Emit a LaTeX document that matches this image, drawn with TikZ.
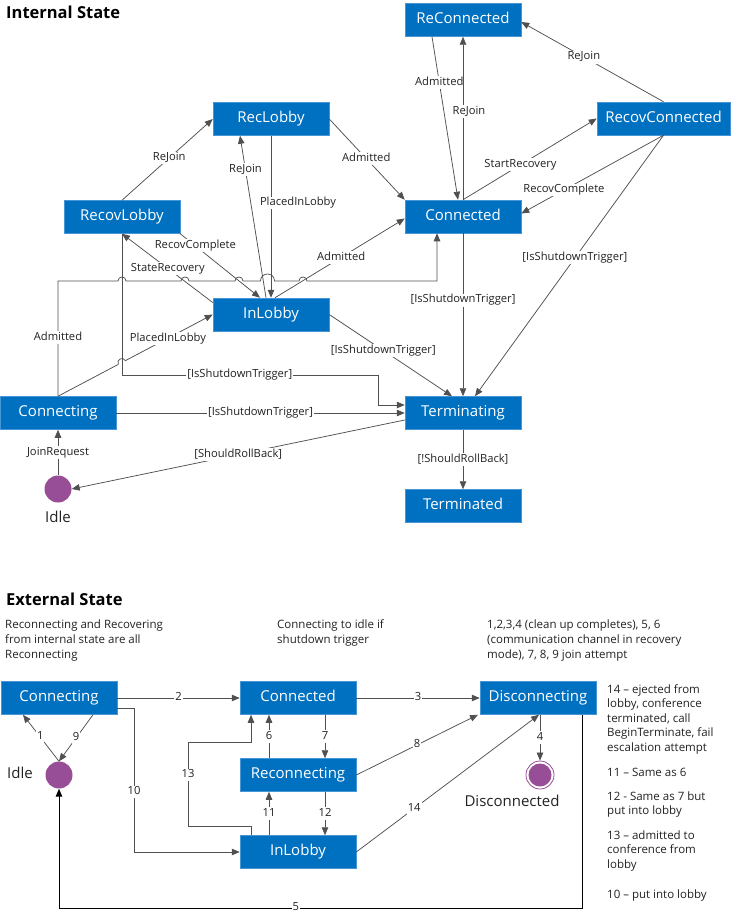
\documentclass[tikz,border=0pt]{standalone}
\usepackage{fontspec}
\setmainfont{Open Sans}
\usetikzlibrary{arrows.meta,calc}

\definecolor{boxblue}{RGB}{0,112,192}
\definecolor{boxedge}{RGB}{70,150,215}
\definecolor{wire}{RGB}{80,80,80}
\definecolor{dot}{RGB}{152,78,150}
\definecolor{ink}{RGB}{34,34,34}

\tikzset{
  state/.style={draw=boxedge, line width=0.5pt, fill=boxblue, text=white,
    minimum width=116pt, minimum height=33pt, inner sep=0pt,
    font=\fontsize{15}{18}\selectfont, text height=11pt, text depth=3.5pt},
  wide/.style={minimum width=133pt},
  tr/.style={draw=wire, line width=0.75pt, -{Triangle[length=8pt,width=6.5pt]}},
  blacktr/.style={draw=black, line width=1pt, -{Triangle[length=8pt,width=6.5pt]}},
  lbl/.style={fill=white, inner sep=1pt, text=ink,
    font=\fontsize{11.2}{13}\selectfont, text height=8.3pt, text depth=2.6pt},
  note/.style={anchor=west, inner sep=0pt, text=ink,
    font=\fontsize{11.5}{14}\selectfont, text height=8.5pt, text depth=2.5pt},
  heading/.style={anchor=west, inner sep=0pt, text=black,
    font=\fontsize{16.5}{19}\bfseries\selectfont, text height=12pt, text depth=3.5pt},
  pseudo/.style={circle, fill=dot, minimum size=27pt, inner sep=0pt},
  caption/.style={inner sep=0pt, text=ink, font=\fontsize{15}{18}\selectfont,
    text height=11pt, text depth=3.5pt},
}

\begin{document}
\begin{tikzpicture}[x=1pt,y=-1pt]
\useasboundingbox (0,0) rectangle (731,917);

% ---------------- internal state machine ----------------
\node[heading] (h1) at (6,14.75) {Internal State};

\node[state] (rc) at (463,20) {ReConnected};
\node[state,wide] (rx) at (663.5,118.5) {RecovConnected};
\node[state] (rb) at (271,119) {RecLobby};
\node[state] (rv) at (122,217) {RecovLobby};
\node[state] (cn) at (463,216.5) {Connected};
\node[state] (il) at (271,314.5) {InLobby};
\node[state] (ci) at (58,413) {Connecting};
\node[state] (tm) at (463,413) {Terminating};
\node[state] (td) at (463,506) {Terminated};
\node[pseudo] (id) at (58,489) {};
\node[caption] (idl) at (58,519) {Idle};

% upper right cluster
\draw[tr] ([xshift=-31pt]rc.south) -- node[lbl,pos=0.28]{Admitted} ([xshift=-5pt]cn.north);
\draw[tr] (cn.north) -- node[lbl,pos=0.54,xshift=6pt]{ReJoin} (rc.south);
\draw[tr] (cn.north) -- node[lbl,pos=0.43]{StartRecovery} (rx.west);
\draw[tr] (rx.south) -- node[lbl,pos=0.7]{RecovComplete} ([yshift=3pt]cn.east);
\draw[tr] (rx.north) -- node[lbl,pos=0.56]{ReJoin} ([yshift=-2pt]rc.east);
\draw[tr] (rx.south) -- node[lbl,pos=0.47]{[IsShutdownTrigger]} ([xshift=12pt]tm.north);
\draw[tr] (cn.south) -- node[lbl,pos=0.41]{[IsShutdownTrigger]} (tm.north);
\draw[tr] (tm.south) -- node[lbl,pos=0.5]{[!ShouldRollBack]} (td.north);

% lobby cluster
\draw[tr] (rb.east) -- node[lbl,pos=0.49]{Admitted} (cn.north west);
\draw[tr] ([xshift=4pt]il.north) -- node[lbl,pos=0.51]{Admitted} ([yshift=-2pt]cn.west);
\draw[tr] ([xshift=-5pt]il.north) -- node[lbl,pos=0.79]{ReJoin} ([xshift=-31pt]rb.south);
\draw[tr] (rb.south) -- node[lbl,pos=0.415,xshift=27pt]{PlacedInLobby} (il.north);
\draw[tr] (rv.north) -- node[lbl,pos=0.52]{ReJoin} (rb.west);
\draw[tr] ([yshift=12pt]il.west) -- node[lbl,pos=0.495]{StateRecovery} (rv.south);
\draw[tr] (rv.south east) -- node[lbl,pos=0.19]{RecovComplete} ([xshift=-11pt]il.north);
\draw[tr] (il.east) -- node[lbl,pos=0.44]{[IsShutdownTrigger]} ([xshift=-11pt]tm.north);

% RecovLobby shutdown route
\draw[tr] (rv.south) -- (122,375) -- node[lbl,pos=0.46]{[IsShutdownTrigger]} (378,375)
  -- (378,405) -- ([yshift=8pt]tm.west);

% Connecting -> Connected, hopping over the crossing lines
\draw[tr] (ci.north) -- node[lbl,pos=0.506]{Admitted} (58,281) -- (118,281)
  .. controls (118,275.67) and (126,275.67) .. (126,281) -- (181,281)
  .. controls (181,275.67) and (189,275.67) .. (189,281) -- (235,281)
  .. controls (235,275.67) and (243,275.67) .. (243,281) -- (260.5,281)
  .. controls (260.5,271.67) and (274.5,271.67) .. (274.5,281) -- (299,281)
  .. controls (299,275.67) and (307,275.67) .. (307,281) -- (437,281)
  -- ([xshift=-26pt]cn.south);

% Connecting -> InLobby, hopping over the RecovLobby line
\coordinate (h1a) at ($(ci.north)!0.390!(il.west)$);
\coordinate (h1b) at ($(ci.north)!0.436!(il.west)$);
\draw[tr] (ci.north) -- (h1a)
  .. controls ($(h1a)!5.3pt!90:(h1b)$) and ($(h1b)!5.3pt!-90:(h1a)$) .. (h1b)
  -- node[lbl,pos=0.486]{PlacedInLobby} (il.west);

\draw[tr] (ci.east) -- node[lbl,pos=0.5]{[IsShutdownTrigger]} (tm.west);
\draw[tr] (id.north) -- node[lbl,pos=0.5]{JoinRequest} (ci.south);
\draw[tr] ([yshift=-7pt]tm.west) -- node[lbl,pos=0.5]{[ShouldRollBack]} (id.east);

% ---------------- external state machine ----------------
\node[heading] (h2) at (6,600.75) {External State};

\node[note] (t1) at (5,625) {Reconnecting and Recovering};
\node[note] (t2) at (5,640) {from internal state are all};
\node[note] (t3) at (5,655) {Reconnecting};
\node[note] (t4) at (277,625) {Connecting to idle if};
\node[note] (t5) at (277,640) {shutdown trigger};
\node[note] (t6) at (487,625) {1,2,3,4 (clean up completes), 5, 6};
\node[note] (t7) at (487,640) {(communication channel in recovery};
\node[note] (t8) at (487,655) {mode), 7, 8, 9 join attempt};

\foreach \txt/\yy [count=\i] in {
    {14 – ejected from}/690, {lobby, conference}/704.5, {terminated, call}/719,
    {BeginTerminate, fail}/733.5, {escalation attempt}/748,
    {11 – Same as 6}/773,
    {12 - Same as 7 but}/797, {put into lobby}/811.5,
    {13 – admitted to}/836, {conference from}/850.5, {lobby}/865,
    {10 – put into lobby}/895}
  \node[note] (r\i) at (607,\yy) {\txt};

\node[state] (ec) at (59,698) {Connecting};
\node[state] (ed) at (298,698) {Connected};
\node[state] (ex) at (538,698) {Disconnecting};
\node[state] (er) at (298,775) {Reconnecting};
\node[state] (el) at (298,852) {InLobby};
\node[pseudo] (ei) at (59,775) {};
\node[caption] (eil) at (20,775) {Idle};
\node[circle, draw=dot, line width=0.8pt, fill=white, minimum size=28pt, inner sep=0pt] (dc) at (540,775) {};
\node[circle, fill=dot, minimum size=23pt, inner sep=0pt] (dcin) at (540,775) {};
\node[caption] (dcl) at (512,803) {Disconnected};

\draw[tr] (ei.north) -- node[lbl,pos=0.52]{1} ([xshift=-36pt]ec.south);
\draw[tr] ([xshift=34pt]ec.south) -- node[lbl,pos=0.5]{9} (ei.north);
\draw[tr] (ec.east) -- node[lbl,pos=0.5]{2} (ed.west);
\draw[tr] ([yshift=-10pt]ec.east) -- (134,708) -- node[lbl,pos=0.583]{10} (134,852) -- (el.west);
\draw[tr] ([xshift=-47pt]el.north) -- (251,826) -- (188,826)
  -- node[lbl,pos=0.607]{13} (188,742) -- (251,742) -- ([xshift=-47pt]ed.south);
\draw[tr] ([xshift=-29pt]er.north) -- node[lbl,pos=0.5]{6} ([xshift=-29pt]ed.south);
\draw[tr] ([xshift=27pt]ed.south) -- node[lbl,pos=0.5]{7} ([xshift=27pt]er.north);
\draw[tr] ([xshift=-29pt]el.north) -- node[lbl,pos=0.5]{11} ([xshift=-29pt]er.south);
\draw[tr] ([xshift=27pt]er.south) -- node[lbl,pos=0.5]{12} ([xshift=27pt]el.north);
\draw[tr] (ed.east) -- node[lbl,pos=0.5]{3} (ex.west);
\draw[tr] (er.east) -- node[lbl,pos=0.5]{8} ([xshift=-60pt]ex.south);
\draw[tr] (el.east) -- node[lbl,pos=0.317]{14} ([xshift=1pt]ex.south);
\draw[tr] ([xshift=2pt]ex.south) -- node[lbl,pos=0.5]{4} (dc.north);
\draw[blacktr] ([xshift=44pt]ex.south) -- (582,908) -- node[lbl,pos=0.547]{5} (59,908) -- (ei.south);

\end{tikzpicture}
\end{document}
